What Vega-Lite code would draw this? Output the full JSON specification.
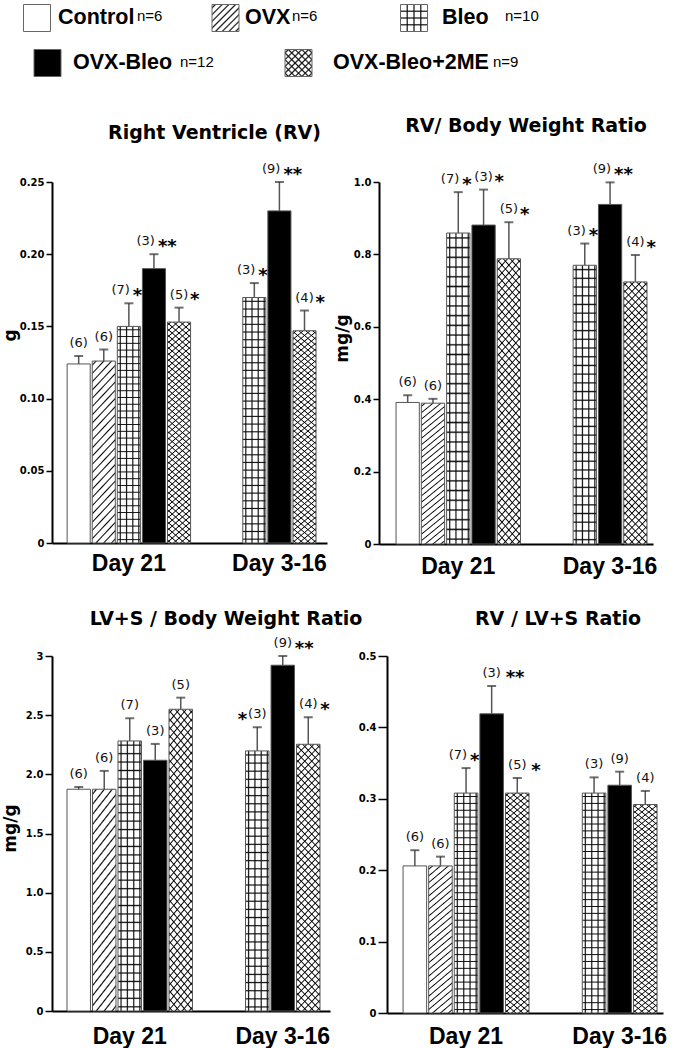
{
"$schema": "https://vega.github.io/schema/vega-lite/v6.json",
"background": "white",
"padding": {"left": 1, "top": 2, "right": 4, "bottom": 0},
"params": [
{"name": "gH", "value": {"gradient": "linear", "x1": 0.5, "y1": 0, "x2": 0.5, "y2": 1, "stops": [
{"offset":0.0111,"color":"transparent"},{"offset":0.0156,"color":"#111"},{"offset":0.0201,"color":"transparent"},
{"offset":0.0424,"color":"transparent"},{"offset":0.0469,"color":"#111"},{"offset":0.0514,"color":"transparent"},
{"offset":0.0736,"color":"transparent"},{"offset":0.0781,"color":"#111"},{"offset":0.0826,"color":"transparent"},
{"offset":0.1049,"color":"transparent"},{"offset":0.1094,"color":"#111"},{"offset":0.1139,"color":"transparent"},
{"offset":0.1361,"color":"transparent"},{"offset":0.1406,"color":"#111"},{"offset":0.1451,"color":"transparent"},
{"offset":0.1674,"color":"transparent"},{"offset":0.1719,"color":"#111"},{"offset":0.1764,"color":"transparent"},
{"offset":0.1986,"color":"transparent"},{"offset":0.2031,"color":"#111"},{"offset":0.2076,"color":"transparent"},
{"offset":0.2299,"color":"transparent"},{"offset":0.2344,"color":"#111"},{"offset":0.2389,"color":"transparent"},
{"offset":0.2611,"color":"transparent"},{"offset":0.2656,"color":"#111"},{"offset":0.2701,"color":"transparent"},
{"offset":0.2924,"color":"transparent"},{"offset":0.2969,"color":"#111"},{"offset":0.3014,"color":"transparent"},
{"offset":0.3236,"color":"transparent"},{"offset":0.3281,"color":"#111"},{"offset":0.3326,"color":"transparent"},
{"offset":0.3549,"color":"transparent"},{"offset":0.3594,"color":"#111"},{"offset":0.3639,"color":"transparent"},
{"offset":0.3861,"color":"transparent"},{"offset":0.3906,"color":"#111"},{"offset":0.3951,"color":"transparent"},
{"offset":0.4174,"color":"transparent"},{"offset":0.4219,"color":"#111"},{"offset":0.4264,"color":"transparent"},
{"offset":0.4486,"color":"transparent"},{"offset":0.4531,"color":"#111"},{"offset":0.4576,"color":"transparent"},
{"offset":0.4799,"color":"transparent"},{"offset":0.4844,"color":"#111"},{"offset":0.4889,"color":"transparent"},
{"offset":0.5111,"color":"transparent"},{"offset":0.5156,"color":"#111"},{"offset":0.5201,"color":"transparent"},
{"offset":0.5424,"color":"transparent"},{"offset":0.5469,"color":"#111"},{"offset":0.5514,"color":"transparent"},
{"offset":0.5736,"color":"transparent"},{"offset":0.5781,"color":"#111"},{"offset":0.5826,"color":"transparent"},
{"offset":0.6049,"color":"transparent"},{"offset":0.6094,"color":"#111"},{"offset":0.6139,"color":"transparent"},
{"offset":0.6361,"color":"transparent"},{"offset":0.6406,"color":"#111"},{"offset":0.6451,"color":"transparent"},
{"offset":0.6674,"color":"transparent"},{"offset":0.6719,"color":"#111"},{"offset":0.6764,"color":"transparent"},
{"offset":0.6986,"color":"transparent"},{"offset":0.7031,"color":"#111"},{"offset":0.7076,"color":"transparent"},
{"offset":0.7299,"color":"transparent"},{"offset":0.7344,"color":"#111"},{"offset":0.7389,"color":"transparent"},
{"offset":0.7611,"color":"transparent"},{"offset":0.7656,"color":"#111"},{"offset":0.7701,"color":"transparent"},
{"offset":0.7924,"color":"transparent"},{"offset":0.7969,"color":"#111"},{"offset":0.8014,"color":"transparent"},
{"offset":0.8236,"color":"transparent"},{"offset":0.8281,"color":"#111"},{"offset":0.8326,"color":"transparent"},
{"offset":0.8549,"color":"transparent"},{"offset":0.8594,"color":"#111"},{"offset":0.8639,"color":"transparent"},
{"offset":0.8861,"color":"transparent"},{"offset":0.8906,"color":"#111"},{"offset":0.8951,"color":"transparent"},
{"offset":0.9174,"color":"transparent"},{"offset":0.9219,"color":"#111"},{"offset":0.9264,"color":"transparent"},
{"offset":0.9486,"color":"transparent"},{"offset":0.9531,"color":"#111"},{"offset":0.9576,"color":"transparent"},
{"offset":0.9799,"color":"transparent"},{"offset":0.9844,"color":"#111"},{"offset":0.9889,"color":"transparent"}
]}},
{"name": "gV", "value": {"gradient": "linear", "x1": 0, "y1": 0.5, "x2": 1, "y2": 0.5, "stops": [
{"offset":0.08,"color":"transparent"},{"offset":0.13,"color":"#111"},{"offset":0.18,"color":"transparent"},
{"offset":0.35,"color":"transparent"},{"offset":0.4,"color":"#111"},{"offset":0.45,"color":"transparent"},
{"offset":0.62,"color":"transparent"},{"offset":0.67,"color":"#111"},{"offset":0.72,"color":"transparent"},
{"offset":0.88,"color":"transparent"},{"offset":0.93,"color":"#111"},{"offset":0.98,"color":"transparent"}
]}},
{"name": "gD1", "value": {"gradient": "linear", "x1": 0, "y1": 0, "x2": 0.0996, "y2": 1.083, "stops": [
{"offset":0.008,"color":"transparent"},{"offset":0.0125,"color":"#000"},{"offset":0.017,"color":"transparent"},
{"offset":0.033,"color":"transparent"},{"offset":0.0375,"color":"#000"},{"offset":0.042,"color":"transparent"},
{"offset":0.058,"color":"transparent"},{"offset":0.0625,"color":"#000"},{"offset":0.067,"color":"transparent"},
{"offset":0.083,"color":"transparent"},{"offset":0.0875,"color":"#000"},{"offset":0.092,"color":"transparent"},
{"offset":0.108,"color":"transparent"},{"offset":0.1125,"color":"#000"},{"offset":0.117,"color":"transparent"},
{"offset":0.133,"color":"transparent"},{"offset":0.1375,"color":"#000"},{"offset":0.142,"color":"transparent"},
{"offset":0.158,"color":"transparent"},{"offset":0.1625,"color":"#000"},{"offset":0.167,"color":"transparent"},
{"offset":0.183,"color":"transparent"},{"offset":0.1875,"color":"#000"},{"offset":0.192,"color":"transparent"},
{"offset":0.208,"color":"transparent"},{"offset":0.2125,"color":"#000"},{"offset":0.217,"color":"transparent"},
{"offset":0.233,"color":"transparent"},{"offset":0.2375,"color":"#000"},{"offset":0.242,"color":"transparent"},
{"offset":0.258,"color":"transparent"},{"offset":0.2625,"color":"#000"},{"offset":0.267,"color":"transparent"},
{"offset":0.283,"color":"transparent"},{"offset":0.2875,"color":"#000"},{"offset":0.292,"color":"transparent"},
{"offset":0.308,"color":"transparent"},{"offset":0.3125,"color":"#000"},{"offset":0.317,"color":"transparent"},
{"offset":0.333,"color":"transparent"},{"offset":0.3375,"color":"#000"},{"offset":0.342,"color":"transparent"},
{"offset":0.358,"color":"transparent"},{"offset":0.3625,"color":"#000"},{"offset":0.367,"color":"transparent"},
{"offset":0.383,"color":"transparent"},{"offset":0.3875,"color":"#000"},{"offset":0.392,"color":"transparent"},
{"offset":0.408,"color":"transparent"},{"offset":0.4125,"color":"#000"},{"offset":0.417,"color":"transparent"},
{"offset":0.433,"color":"transparent"},{"offset":0.4375,"color":"#000"},{"offset":0.442,"color":"transparent"},
{"offset":0.458,"color":"transparent"},{"offset":0.4625,"color":"#000"},{"offset":0.467,"color":"transparent"},
{"offset":0.483,"color":"transparent"},{"offset":0.4875,"color":"#000"},{"offset":0.492,"color":"transparent"},
{"offset":0.508,"color":"transparent"},{"offset":0.5125,"color":"#000"},{"offset":0.517,"color":"transparent"},
{"offset":0.533,"color":"transparent"},{"offset":0.5375,"color":"#000"},{"offset":0.542,"color":"transparent"},
{"offset":0.558,"color":"transparent"},{"offset":0.5625,"color":"#000"},{"offset":0.567,"color":"transparent"},
{"offset":0.583,"color":"transparent"},{"offset":0.5875,"color":"#000"},{"offset":0.592,"color":"transparent"},
{"offset":0.608,"color":"transparent"},{"offset":0.6125,"color":"#000"},{"offset":0.617,"color":"transparent"},
{"offset":0.633,"color":"transparent"},{"offset":0.6375,"color":"#000"},{"offset":0.642,"color":"transparent"},
{"offset":0.658,"color":"transparent"},{"offset":0.6625,"color":"#000"},{"offset":0.667,"color":"transparent"},
{"offset":0.683,"color":"transparent"},{"offset":0.6875,"color":"#000"},{"offset":0.692,"color":"transparent"},
{"offset":0.708,"color":"transparent"},{"offset":0.7125,"color":"#000"},{"offset":0.717,"color":"transparent"},
{"offset":0.733,"color":"transparent"},{"offset":0.7375,"color":"#000"},{"offset":0.742,"color":"transparent"},
{"offset":0.758,"color":"transparent"},{"offset":0.7625,"color":"#000"},{"offset":0.767,"color":"transparent"},
{"offset":0.783,"color":"transparent"},{"offset":0.7875,"color":"#000"},{"offset":0.792,"color":"transparent"},
{"offset":0.808,"color":"transparent"},{"offset":0.8125,"color":"#000"},{"offset":0.817,"color":"transparent"},
{"offset":0.833,"color":"transparent"},{"offset":0.8375,"color":"#000"},{"offset":0.842,"color":"transparent"},
{"offset":0.858,"color":"transparent"},{"offset":0.8625,"color":"#000"},{"offset":0.867,"color":"transparent"},
{"offset":0.883,"color":"transparent"},{"offset":0.8875,"color":"#000"},{"offset":0.892,"color":"transparent"},
{"offset":0.908,"color":"transparent"},{"offset":0.9125,"color":"#000"},{"offset":0.917,"color":"transparent"},
{"offset":0.933,"color":"transparent"},{"offset":0.9375,"color":"#000"},{"offset":0.942,"color":"transparent"},
{"offset":0.958,"color":"transparent"},{"offset":0.9625,"color":"#000"},{"offset":0.967,"color":"transparent"},
{"offset":0.983,"color":"transparent"},{"offset":0.9875,"color":"#000"},{"offset":0.992,"color":"transparent"}
]}},
{"name": "gD2", "expr": "{gradient: 'linear', x1: 1, y1: 0, x2: 0.9004, y2: 1.083, stops: gD1.stops}"},
{"name": "gO", "expr": "{gradient: 'linear', x1: 0, y1: 0, x2: 0.2413, y2: 1.784, stops: gD1.stops}"},
{"name": "gsV", "value": {"gradient": "linear", "x1": 0, "y1": 0.5, "x2": 1, "y2": 0.5, "stops": [
{"offset":0.205,"color":"transparent"},{"offset":0.25,"color":"#111"},{"offset":0.295,"color":"transparent"},
{"offset":0.455,"color":"transparent"},{"offset":0.5,"color":"#111"},{"offset":0.545,"color":"transparent"},
{"offset":0.705,"color":"transparent"},{"offset":0.75,"color":"#111"},{"offset":0.795,"color":"transparent"}
]}},
{"name": "gsH", "expr": "{gradient: 'linear', x1: 0.5, y1: 0, x2: 0.5, y2: 1, stops: gsV.stops}"},
{"name": "gsD1", "value": {"gradient": "linear", "x1": 0, "y1": 0, "x2": 1, "y2": 1, "stops": [
{"offset":0.0325,"color":"transparent"},{"offset":0.0625,"color":"#111"},{"offset":0.0925,"color":"transparent"},
{"offset":0.1575,"color":"transparent"},{"offset":0.1875,"color":"#111"},{"offset":0.2175,"color":"transparent"},
{"offset":0.2825,"color":"transparent"},{"offset":0.3125,"color":"#111"},{"offset":0.3425,"color":"transparent"},
{"offset":0.4075,"color":"transparent"},{"offset":0.4375,"color":"#111"},{"offset":0.4675,"color":"transparent"},
{"offset":0.5325,"color":"transparent"},{"offset":0.5625,"color":"#111"},{"offset":0.5925,"color":"transparent"},
{"offset":0.6575,"color":"transparent"},{"offset":0.6875,"color":"#111"},{"offset":0.7175,"color":"transparent"},
{"offset":0.7825,"color":"transparent"},{"offset":0.8125,"color":"#111"},{"offset":0.8425,"color":"transparent"},
{"offset":0.9075,"color":"transparent"},{"offset":0.9375,"color":"#111"},{"offset":0.9675,"color":"transparent"}
]}},
{"name": "gsD2", "expr": "{gradient: 'linear', x1: 0, y1: 1, x2: 1, y2: 0, stops: gsD1.stops}"}
],
"datasets": {
"leg1": [
{"group": "Control", "label": "Control", "n": "n=6"},
{"group": "OVX", "label": "OVX", "n": "n=6"},
{"group": "Bleo", "label": "Bleo", "n": "n=10"}
],
"leg2": [
{"group": "OVX-Bleo", "label": "OVX-Bleo", "n": "n=12"},
{"group": "OVX-Bleo+2ME", "label": "OVX-Bleo+2ME", "n": "n=9"}
],
"rv": [
{"bar": "D21 Control", "group": "Control", "mean": 0.124, "hi": 0.1295, "n": "(6)", "sig": "", "side": ""},
{"bar": "D21 OVX", "group": "OVX", "mean": 0.126, "hi": 0.134, "n": "(6)", "sig": "", "side": ""},
{"bar": "D21 Bleo", "group": "Bleo", "mean": 0.15, "hi": 0.166, "n": "(7)", "sig": "*", "side": "R"},
{"bar": "D21 OVX-Bleo", "group": "OVX-Bleo", "mean": 0.19, "hi": 0.2, "n": "(3)", "sig": "**", "side": "R"},
{"bar": "D21 OVX-Bleo+2ME", "group": "OVX-Bleo+2ME", "mean": 0.153, "hi": 0.163, "n": "(5)", "sig": "*", "side": "C"},
{"bar": "D316 Bleo", "group": "Bleo", "mean": 0.17, "hi": 0.18, "n": "(3)", "sig": "*", "side": "R"},
{"bar": "D316 OVX-Bleo", "group": "OVX-Bleo", "mean": 0.23, "hi": 0.25, "n": "(9)", "sig": "**", "side": "R"},
{"bar": "D316 OVX-Bleo+2ME", "group": "OVX-Bleo+2ME", "mean": 0.147, "hi": 0.161, "n": "(4)", "sig": "*", "side": "C"}
],
"rvbw": [
{"bar": "D21 Control", "group": "Control", "mean": 0.391, "hi": 0.411, "n": "(6)", "sig": "", "side": ""},
{"bar": "D21 OVX", "group": "OVX", "mean": 0.389, "hi": 0.401, "n": "(6)", "sig": "", "side": ""},
{"bar": "D21 Bleo", "group": "Bleo", "mean": 0.859, "hi": 0.972, "n": "(7)", "sig": "*", "side": "R"},
{"bar": "D21 OVX-Bleo", "group": "OVX-Bleo", "mean": 0.881, "hi": 0.979, "n": "(3)", "sig": "*", "side": "C"},
{"bar": "D21 OVX-Bleo+2ME", "group": "OVX-Bleo+2ME", "mean": 0.788, "hi": 0.889, "n": "(5)", "sig": "*", "side": "C"},
{"bar": "D316 Bleo", "group": "Bleo", "mean": 0.77, "hi": 0.83, "n": "(3)", "sig": "*", "side": "R"},
{"bar": "D316 OVX-Bleo", "group": "OVX-Bleo", "mean": 0.938, "hi": 0.999, "n": "(9)", "sig": "**", "side": "R"},
{"bar": "D316 OVX-Bleo+2ME", "group": "OVX-Bleo+2ME", "mean": 0.724, "hi": 0.798, "n": "(4)", "sig": "*", "side": "C"}
],
"lvbw": [
{"bar": "D21 Control", "group": "Control", "mean": 1.874, "hi": 1.893, "n": "(6)", "sig": "", "side": ""},
{"bar": "D21 OVX", "group": "OVX", "mean": 1.874, "hi": 2.029, "n": "(6)", "sig": "", "side": ""},
{"bar": "D21 Bleo", "group": "Bleo", "mean": 2.282, "hi": 2.474, "n": "(7)", "sig": "", "side": ""},
{"bar": "D21 OVX-Bleo", "group": "OVX-Bleo", "mean": 2.119, "hi": 2.257, "n": "(3)", "sig": "", "side": ""},
{"bar": "D21 OVX-Bleo+2ME", "group": "OVX-Bleo+2ME", "mean": 2.55, "hi": 2.648, "n": "(5)", "sig": "", "side": ""},
{"bar": "D316 Bleo", "group": "Bleo", "mean": 2.198, "hi": 2.398, "n": "(3)", "sig": "*", "side": "L"},
{"bar": "D316 OVX-Bleo", "group": "OVX-Bleo", "mean": 2.922, "hi": 3.0, "n": "(9)", "sig": "**", "side": "C"},
{"bar": "D316 OVX-Bleo+2ME", "group": "OVX-Bleo+2ME", "mean": 2.254, "hi": 2.483, "n": "(4)", "sig": "*", "side": "C"}
],
"rvlv": [
{"bar": "D21 Control", "group": "Control", "mean": 0.206, "hi": 0.228, "n": "(6)", "sig": "", "side": ""},
{"bar": "D21 OVX", "group": "OVX", "mean": 0.206, "hi": 0.219, "n": "(6)", "sig": "", "side": ""},
{"bar": "D21 Bleo", "group": "Bleo", "mean": 0.308, "hi": 0.343, "n": "(7)", "sig": "*", "side": "R"},
{"bar": "D21 OVX-Bleo", "group": "OVX-Bleo", "mean": 0.419, "hi": 0.458, "n": "(3)", "sig": "**", "side": "C"},
{"bar": "D21 OVX-Bleo+2ME", "group": "OVX-Bleo+2ME", "mean": 0.308, "hi": 0.329, "n": "(5)", "sig": "*", "side": "C"},
{"bar": "D316 Bleo", "group": "Bleo", "mean": 0.308, "hi": 0.33, "n": "(3)", "sig": "", "side": ""},
{"bar": "D316 OVX-Bleo", "group": "OVX-Bleo", "mean": 0.319, "hi": 0.338, "n": "(9)", "sig": "", "side": ""},
{"bar": "D316 OVX-Bleo+2ME", "group": "OVX-Bleo+2ME", "mean": 0.292, "hi": 0.311, "n": "(4)", "sig": "", "side": ""}
]
},
"config": {
"view": {"stroke": null},
"font": "DejaVu Sans",
"title": {"font": "DejaVu Sans", "fontWeight": "bold", "fontSize": 19, "color": "#000", "anchor": "middle", "frame": "group", "baseline": "alphabetic"},
"axisX": {"ticks": false, "tickSize": 0, "domainColor": "#000", "domainWidth": 2, "labelFont": "Liberation Sans", "labelFontWeight": "bold", "labelFontSize": 23, "labelColor": "#000", "labelAngle": 0, "labelOverlap": false, "labelBound": false, "labelFlush": false, "labelLimit": 0, "labelBaseline": "top"},
"axisY": {"domainColor": "#000", "domainWidth": 2, "tickColor": "#000", "tickWidth": 1.5, "tickSize": 6, "labelFont": "DejaVu Sans", "labelFontWeight": "bold", "labelFontSize": 10, "labelColor": "#000", "labelPadding": 2, "grid": false, "titleFont": "DejaVu Sans", "titleFontWeight": "bold", "titleFontSize": 17, "titleColor": "#000"}
},
"columns": 1,
"align": "none",
"spacing": 32,
"concat": [
{"columns": 1, "align": "none", "spacing": 38, "concat": [
{"vconcat": [
{
"width": 380, "height": 30,
"data": {"name": "leg1"},
"encoding": {"x": {"field": "group", "type": "nominal", "scale": {"type": "point", "domain": ["Control", "OVX", "Bleo"], "padding": 0, "range": [-15, 362]}, "axis": null}},
"layer": [
{"mark": {"type": "square", "size": 729, "opacity": 1}, "encoding": {"fill": {"condition": {"test": "datum.group == 'OVX-Bleo'", "value": "#000"}, "value": "#fff"}}},
{"transform": [{"filter": "datum.group == 'OVX'"}], "mark": {"type": "square", "size": 729, "opacity": 1, "fill": {"expr": "gsD1"}}},
{"transform": [{"filter": "datum.group == 'Bleo'"}], "mark": {"type": "square", "size": 729, "opacity": 1, "fill": {"expr": "gsH"}}},
{"transform": [{"filter": "datum.group == 'Bleo'"}], "mark": {"type": "square", "size": 729, "opacity": 1, "fill": {"expr": "gsV"}}},
{"mark": {"type": "square", "size": 729, "opacity": 1, "fillOpacity": 0, "stroke": "#666", "strokeWidth": 1}},
{"transform": [{"filter": "datum.group == 'Control'"}], "mark": {"type": "text", "align": "left", "baseline": "middle", "dx": 21, "font": "Liberation Sans", "fontWeight": "bold", "fontSize": 21.5, "color": "#000"}, "encoding": {"text": {"field": "label"}}},
{"transform": [{"filter": "datum.group == 'OVX'"}], "mark": {"type": "text", "align": "left", "baseline": "middle", "dx": 19.5, "font": "Liberation Sans", "fontWeight": "bold", "fontSize": 21.5, "color": "#000"}, "encoding": {"text": {"field": "label"}}},
{"transform": [{"filter": "datum.group == 'Bleo'"}], "mark": {"type": "text", "align": "left", "baseline": "middle", "dx": 28, "font": "Liberation Sans", "fontWeight": "bold", "fontSize": 21.5, "color": "#000"}, "encoding": {"text": {"field": "label"}}},
{"transform": [{"filter": "datum.group == 'Control'"}], "mark": {"type": "text", "align": "left", "baseline": "middle", "dx": 100, "dy": -2, "font": "Liberation Sans", "fontSize": 15, "color": "#000"}, "encoding": {"text": {"field": "n"}}},
{"transform": [{"filter": "datum.group == 'OVX'"}], "mark": {"type": "text", "align": "left", "baseline": "middle", "dx": 66.5, "dy": -2, "font": "Liberation Sans", "fontSize": 15, "color": "#000"}, "encoding": {"text": {"field": "n"}}},
{"transform": [{"filter": "datum.group == 'Bleo'"}], "mark": {"type": "text", "align": "left", "baseline": "middle", "dx": 91, "dy": -2, "font": "Liberation Sans", "fontSize": 15, "color": "#000"}, "encoding": {"text": {"field": "n"}}}
]
},
{
"width": 260, "height": 30,
"data": {"name": "leg2"},
"encoding": {"x": {"field": "group", "type": "nominal", "scale": {"type": "point", "domain": ["OVX-Bleo", "OVX-Bleo+2ME"], "padding": 0, "range": [-4.5, 246.5]}, "axis": null}},
"layer": [
{"mark": {"type": "square", "size": 729, "opacity": 1}, "encoding": {"fill": {"condition": {"test": "datum.group == 'OVX-Bleo'", "value": "#000"}, "value": "#fff"}}},
{"transform": [{"filter": "datum.group == 'OVX-Bleo+2ME'"}], "mark": {"type": "square", "size": 729, "opacity": 1, "fill": {"expr": "gsD1"}}},
{"transform": [{"filter": "datum.group == 'OVX-Bleo+2ME'"}], "mark": {"type": "square", "size": 729, "opacity": 1, "fill": {"expr": "gsD2"}}},
{"mark": {"type": "square", "size": 729, "opacity": 1, "fillOpacity": 0, "stroke": "#666", "strokeWidth": 1}},
{"transform": [{"filter": "datum.group == 'OVX-Bleo'"}], "mark": {"type": "text", "align": "left", "baseline": "middle", "dx": 25.5, "font": "Liberation Sans", "fontWeight": "bold", "fontSize": 21.5, "color": "#000"}, "encoding": {"text": {"field": "label"}}},
{"transform": [{"filter": "datum.group == 'OVX-Bleo+2ME'"}], "mark": {"type": "text", "align": "left", "baseline": "middle", "dx": 34.5, "font": "Liberation Sans", "fontWeight": "bold", "fontSize": 21.5, "color": "#000"}, "encoding": {"text": {"field": "label"}}},
{"transform": [{"filter": "datum.group == 'OVX-Bleo'"}], "mark": {"type": "text", "align": "left", "baseline": "middle", "dx": 132.5, "dy": -1, "font": "Liberation Sans", "fontSize": 15, "color": "#000"}, "encoding": {"text": {"field": "n"}}},
{"transform": [{"filter": "datum.group == 'OVX-Bleo+2ME'"}], "mark": {"type": "text", "align": "left", "baseline": "middle", "dx": 194.5, "dy": -1, "font": "Liberation Sans", "fontSize": 15, "color": "#000"}, "encoding": {"text": {"field": "n"}}}
]
}
], "spacing": 13},
{"hconcat": [
{
"width": 275, "height": 361,
"title": {"text": "Right Ventricle (RV)", "dx": 25, "offset": 20},
"data": {"name": "rv"},
"encoding": {
"x": {"field": "bar", "type": "nominal", "scale": {"domain": ["D21 Control","D21 OVX","D21 Bleo","D21 OVX-Bleo","D21 OVX-Bleo+2ME","gap1","gap2","D316 Bleo","D316 OVX-Bleo","D316 OVX-Bleo+2ME"], "paddingInner": 0.08, "paddingOuter": 0.52, "align": 0.58}, "axis": {"title": null, "labelPadding": 9, "labelExpr": "datum.value == 'D21 Bleo' ? 'Day 21' : datum.value == 'D316 OVX-Bleo' ? 'Day 3-16' : ''"}},
"y": {"field": "mean", "type": "quantitative", "scale": {"domain": [0, 0.25]}, "axis": {"values": [0, 0.05, 0.1, 0.15, 0.2, 0.25], "labelExpr": "datum.value == 0 ? '0' : format(datum.value, '.2f')", "title": "g", "titleX": -33, "titleY": 153}}
},
"layer": [
{"mark": {"type": "bar"}, "encoding": {"fill": {"condition": {"test": "datum.group == 'OVX-Bleo'", "value": "#000"}, "value": "#fff"}}},
{"transform": [{"filter": "datum.group == 'OVX'"}], "mark": {"type": "bar", "fill": {"expr": "gO"}}},
{"transform": [{"filter": "datum.group == 'Bleo'"}], "mark": {"type": "bar", "fill": {"expr": "gH"}}},
{"transform": [{"filter": "datum.group == 'Bleo'"}], "mark": {"type": "bar", "fill": {"expr": "gV"}}},
{"transform": [{"filter": "datum.group == 'OVX-Bleo+2ME'"}], "mark": {"type": "bar", "fill": {"expr": "gD1"}}},
{"transform": [{"filter": "datum.group == 'OVX-Bleo+2ME'"}], "mark": {"type": "bar", "fill": {"expr": "gD2"}}},
{"mark": {"type": "bar", "fillOpacity": 0, "stroke": "#555", "strokeWidth": 1}},
{"mark": {"type": "rule", "color": "#555", "strokeWidth": 1.5}, "encoding": {"y2": {"field": "hi"}}},
{"mark": {"type": "tick", "color": "#333", "thickness": 2, "size": 9}, "encoding": {"y": {"field": "hi", "type": "quantitative", "scale": {"domain": [0, 0.25]}}}},
{"transform": [{"filter": "datum.side != 'R'"}], "mark": {"type": "text", "font": "DejaVu Sans", "fontSize": 13, "baseline": "alphabetic", "dy": -9, "color": "#111"}, "encoding": {"y": {"field": "hi", "type": "quantitative", "scale": {"domain": [0, 0.25]}}, "text": {"field": "n"}}},
{"transform": [{"filter": "datum.side == 'R'"}], "mark": {"type": "text", "font": "DejaVu Sans", "fontSize": 13, "baseline": "alphabetic", "align": "right", "dx": 1, "dy": -9, "color": "#111"}, "encoding": {"y": {"field": "hi", "type": "quantitative", "scale": {"domain": [0, 0.25]}}, "text": {"field": "n"}}},
{"transform": [{"filter": "datum.side == 'R'"}], "mark": {"type": "text", "font": "DejaVu Sans", "fontWeight": "bold", "fontSize": 18, "baseline": "alphabetic", "align": "left", "dx": 4, "dy": -2.5, "color": "#000"}, "encoding": {"y": {"field": "hi", "type": "quantitative", "scale": {"domain": [0, 0.25]}}, "text": {"field": "sig"}}},
{"transform": [{"filter": "datum.side == 'C'"}], "mark": {"type": "text", "font": "DejaVu Sans", "fontWeight": "bold", "fontSize": 18, "baseline": "alphabetic", "align": "left", "dx": 11, "dy": -2.5, "color": "#000"}, "encoding": {"y": {"field": "hi", "type": "quantitative", "scale": {"domain": [0, 0.25]}}, "text": {"field": "sig"}}}
]
},
{
"width": 274, "height": 362,
"title": {"text": "RV/ Body Weight Ratio", "dx": 10, "offset": 27},
"data": {"name": "rvbw"},
"encoding": {
"x": {"field": "bar", "type": "nominal", "scale": {"domain": ["D21 Control","D21 OVX","D21 Bleo","D21 OVX-Bleo","D21 OVX-Bleo+2ME","gap1","gap2","D316 Bleo","D316 OVX-Bleo","D316 OVX-Bleo+2ME"], "paddingInner": 0.08, "paddingOuter": 0.455, "align": 0.74}, "axis": {"title": null, "labelPadding": 11, "labelExpr": "datum.value == 'D21 Bleo' ? 'Day 21' : datum.value == 'D316 OVX-Bleo' ? 'Day 3-16' : ''"}},
"y": {"field": "mean", "type": "quantitative", "scale": {"domain": [0, 1]}, "axis": {"values": [0, 0.2, 0.4, 0.6, 0.8, 1], "labelExpr": "datum.value == 0 ? '0' : format(datum.value, '.1f')", "title": "mg/g", "titleX": -28, "titleY": 156}}
},
"layer": [
{"mark": {"type": "bar"}, "encoding": {"fill": {"condition": {"test": "datum.group == 'OVX-Bleo'", "value": "#000"}, "value": "#fff"}}},
{"transform": [{"filter": "datum.group == 'OVX'"}], "mark": {"type": "bar", "fill": {"expr": "gO"}}},
{"transform": [{"filter": "datum.group == 'Bleo'"}], "mark": {"type": "bar", "fill": {"expr": "gH"}}},
{"transform": [{"filter": "datum.group == 'Bleo'"}], "mark": {"type": "bar", "fill": {"expr": "gV"}}},
{"transform": [{"filter": "datum.group == 'OVX-Bleo+2ME'"}], "mark": {"type": "bar", "fill": {"expr": "gD1"}}},
{"transform": [{"filter": "datum.group == 'OVX-Bleo+2ME'"}], "mark": {"type": "bar", "fill": {"expr": "gD2"}}},
{"mark": {"type": "bar", "fillOpacity": 0, "stroke": "#555", "strokeWidth": 1}},
{"mark": {"type": "rule", "color": "#555", "strokeWidth": 1.5}, "encoding": {"y2": {"field": "hi"}}},
{"mark": {"type": "tick", "color": "#333", "thickness": 2, "size": 9}, "encoding": {"y": {"field": "hi", "type": "quantitative", "scale": {"domain": [0, 1]}}}},
{"transform": [{"filter": "datum.side != 'R'"}], "mark": {"type": "text", "font": "DejaVu Sans", "fontSize": 13, "baseline": "alphabetic", "dy": -9, "color": "#111"}, "encoding": {"y": {"field": "hi", "type": "quantitative", "scale": {"domain": [0, 1]}}, "text": {"field": "n"}}},
{"transform": [{"filter": "datum.side == 'R'"}], "mark": {"type": "text", "font": "DejaVu Sans", "fontSize": 13, "baseline": "alphabetic", "align": "right", "dx": 1, "dy": -9, "color": "#111"}, "encoding": {"y": {"field": "hi", "type": "quantitative", "scale": {"domain": [0, 1]}}, "text": {"field": "n"}}},
{"transform": [{"filter": "datum.side == 'R'"}], "mark": {"type": "text", "font": "DejaVu Sans", "fontWeight": "bold", "fontSize": 18, "baseline": "alphabetic", "align": "left", "dx": 4, "dy": -2.5, "color": "#000"}, "encoding": {"y": {"field": "hi", "type": "quantitative", "scale": {"domain": [0, 1]}}, "text": {"field": "sig"}}},
{"transform": [{"filter": "datum.side == 'C'"}], "mark": {"type": "text", "font": "DejaVu Sans", "fontWeight": "bold", "fontSize": 18, "baseline": "alphabetic", "align": "left", "dx": 11, "dy": -2.5, "color": "#000"}, "encoding": {"y": {"field": "hi", "type": "quantitative", "scale": {"domain": [0, 1]}}, "text": {"field": "sig"}}}
]
}
], "spacing": 52, "bounds": "flush"}
]},
{"hconcat": [
{
"width": 278, "height": 355,
"title": {"text": "LV+S / Body Weight Ratio", "dx": 35, "offset": 8},
"data": {"name": "lvbw"},
"encoding": {
"x": {"field": "bar", "type": "nominal", "scale": {"domain": ["D21 Control","D21 OVX","D21 Bleo","D21 OVX-Bleo","D21 OVX-Bleo+2ME","gap1","gap2","D316 Bleo","D316 OVX-Bleo","D316 OVX-Bleo+2ME"], "paddingInner": 0.08, "paddingOuter": 0.49, "align": 0.6}, "axis": {"title": null, "labelPadding": 14, "labelExpr": "datum.value == 'D21 Bleo' ? 'Day 21' : datum.value == 'D316 OVX-Bleo' ? 'Day 3-16' : ''"}},
"y": {"field": "mean", "type": "quantitative", "scale": {"domain": [0, 3]}, "axis": {"values": [0, 0.5, 1, 1.5, 2, 2.5, 3], "labelExpr": "datum.value == 0 ? '0' : datum.value == 3 ? '3' : format(datum.value, '.1f')", "title": "mg/g", "titleX": -33, "titleY": 172, "tickSize": 7}}
},
"layer": [
{"mark": {"type": "bar"}, "encoding": {"fill": {"condition": {"test": "datum.group == 'OVX-Bleo'", "value": "#000"}, "value": "#fff"}}},
{"transform": [{"filter": "datum.group == 'OVX'"}], "mark": {"type": "bar", "fill": {"expr": "gO"}}},
{"transform": [{"filter": "datum.group == 'Bleo'"}], "mark": {"type": "bar", "fill": {"expr": "gH"}}},
{"transform": [{"filter": "datum.group == 'Bleo'"}], "mark": {"type": "bar", "fill": {"expr": "gV"}}},
{"transform": [{"filter": "datum.group == 'OVX-Bleo+2ME'"}], "mark": {"type": "bar", "fill": {"expr": "gD1"}}},
{"transform": [{"filter": "datum.group == 'OVX-Bleo+2ME'"}], "mark": {"type": "bar", "fill": {"expr": "gD2"}}},
{"mark": {"type": "bar", "fillOpacity": 0, "stroke": "#555", "strokeWidth": 1}},
{"mark": {"type": "rule", "color": "#555", "strokeWidth": 1.5}, "encoding": {"y2": {"field": "hi"}}},
{"mark": {"type": "tick", "color": "#333", "thickness": 2, "size": 9}, "encoding": {"y": {"field": "hi", "type": "quantitative", "scale": {"domain": [0, 3]}}}},
{"transform": [{"filter": "datum.side != 'R'"}], "mark": {"type": "text", "font": "DejaVu Sans", "fontSize": 13, "baseline": "alphabetic", "dy": -9, "color": "#111"}, "encoding": {"y": {"field": "hi", "type": "quantitative", "scale": {"domain": [0, 3]}}, "text": {"field": "n"}}},
{"transform": [{"filter": "datum.side == 'C'"}], "mark": {"type": "text", "font": "DejaVu Sans", "fontWeight": "bold", "fontSize": 18, "baseline": "alphabetic", "align": "left", "dx": 12, "dy": -2.5, "color": "#000"}, "encoding": {"y": {"field": "hi", "type": "quantitative", "scale": {"domain": [0, 3]}}, "text": {"field": "sig"}}},
{"transform": [{"filter": "datum.side == 'L'"}], "mark": {"type": "text", "font": "DejaVu Sans", "fontWeight": "bold", "fontSize": 18, "baseline": "alphabetic", "align": "right", "dx": -10, "dy": -2.5, "color": "#000"}, "encoding": {"y": {"field": "hi", "type": "quantitative", "scale": {"domain": [0, 3]}}, "text": {"field": "sig"}}}
]
},
{
"width": 276, "height": 357,
"title": {"text": "RV / LV+S Ratio", "dx": 33, "offset": 22},
"data": {"name": "rvlv"},
"encoding": {
"x": {"field": "bar", "type": "nominal", "scale": {"domain": ["D21 Control","D21 OVX","D21 Bleo","D21 OVX-Bleo","D21 OVX-Bleo+2ME","gap1","gap2","D316 Bleo","D316 OVX-Bleo","D316 OVX-Bleo+2ME"], "paddingInner": 0.08, "paddingOuter": 0.43, "align": 0.73}, "axis": {"title": null, "labelPadding": 12, "labelExpr": "datum.value == 'D21 Bleo' ? 'Day 21' : datum.value == 'D316 OVX-Bleo' ? 'Day 3-16' : ''"}},
"y": {"field": "mean", "type": "quantitative", "scale": {"domain": [0, 0.5]}, "axis": {"values": [0, 0.1, 0.2, 0.3, 0.4, 0.5], "labelExpr": "datum.value == 0 ? '0' : format(datum.value, '.1f')", "title": null, "tickSize": 9}}
},
"layer": [
{"mark": {"type": "bar"}, "encoding": {"fill": {"condition": {"test": "datum.group == 'OVX-Bleo'", "value": "#000"}, "value": "#fff"}}},
{"transform": [{"filter": "datum.group == 'OVX'"}], "mark": {"type": "bar", "fill": {"expr": "gO"}}},
{"transform": [{"filter": "datum.group == 'Bleo'"}], "mark": {"type": "bar", "fill": {"expr": "gH"}}},
{"transform": [{"filter": "datum.group == 'Bleo'"}], "mark": {"type": "bar", "fill": {"expr": "gV"}}},
{"transform": [{"filter": "datum.group == 'OVX-Bleo+2ME'"}], "mark": {"type": "bar", "fill": {"expr": "gD1"}}},
{"transform": [{"filter": "datum.group == 'OVX-Bleo+2ME'"}], "mark": {"type": "bar", "fill": {"expr": "gD2"}}},
{"mark": {"type": "bar", "fillOpacity": 0, "stroke": "#555", "strokeWidth": 1}},
{"mark": {"type": "rule", "color": "#555", "strokeWidth": 1.5}, "encoding": {"y2": {"field": "hi"}}},
{"mark": {"type": "tick", "color": "#333", "thickness": 2, "size": 9}, "encoding": {"y": {"field": "hi", "type": "quantitative", "scale": {"domain": [0, 0.5]}}}},
{"transform": [{"filter": "datum.side != 'R'"}], "mark": {"type": "text", "font": "DejaVu Sans", "fontSize": 13, "baseline": "alphabetic", "dy": -9, "color": "#111"}, "encoding": {"y": {"field": "hi", "type": "quantitative", "scale": {"domain": [0, 0.5]}}, "text": {"field": "n"}}},
{"transform": [{"filter": "datum.side == 'R'"}], "mark": {"type": "text", "font": "DejaVu Sans", "fontSize": 13, "baseline": "alphabetic", "align": "right", "dx": 1, "dy": -9, "color": "#111"}, "encoding": {"y": {"field": "hi", "type": "quantitative", "scale": {"domain": [0, 0.5]}}, "text": {"field": "n"}}},
{"transform": [{"filter": "datum.side == 'R'"}], "mark": {"type": "text", "font": "DejaVu Sans", "fontWeight": "bold", "fontSize": 18, "baseline": "alphabetic", "align": "left", "dx": 4, "dy": -2.5, "color": "#000"}, "encoding": {"y": {"field": "hi", "type": "quantitative", "scale": {"domain": [0, 0.5]}}, "text": {"field": "sig"}}},
{"transform": [{"filter": "datum.side == 'C'"}], "mark": {"type": "text", "font": "DejaVu Sans", "fontWeight": "bold", "fontSize": 18, "baseline": "alphabetic", "align": "left", "dx": 14, "dy": -2.5, "color": "#000"}, "encoding": {"y": {"field": "hi", "type": "quantitative", "scale": {"domain": [0, 0.5]}}, "text": {"field": "sig"}}}
]
}
], "spacing": 57, "bounds": "flush"}
]
}
